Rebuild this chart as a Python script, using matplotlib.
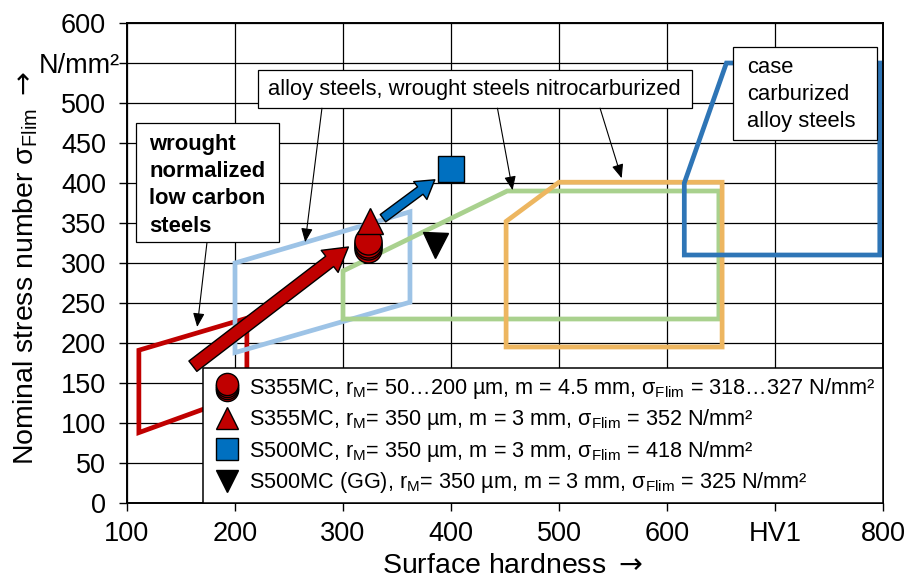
import numpy as np
import matplotlib.pyplot as plt
from matplotlib.patches import Polygon, Rectangle
from matplotlib.lines import Line2D
from matplotlib.legend_handler import HandlerBase
from matplotlib.transforms import ScaledTranslation

plt.rcParams['font.family'] = ['Liberation Sans', 'DejaVu Sans']
plt.rcParams['mathtext.fontset'] = 'custom'
plt.rcParams['mathtext.rm'] = 'Liberation Sans'
plt.rcParams['mathtext.it'] = 'Liberation Sans:italic'
plt.rcParams['mathtext.bf'] = 'Liberation Sans:bold'
plt.rcParams['mathtext.sf'] = 'DejaVu Sans'

# Axis ticks
x_ticks = [100, 200, 300, 400, 500, 600, 700, 800]
x_tick_labels = ['100', '200', '300', '400', '500', '600', 'HV1', '800']
y_ticks = list(range(0, 601, 50))
y_tick_labels = [str(v) for v in y_ticks]
y_tick_labels[11] = 'N/mm²'

# Material regions (surface hardness HV1, sigma_Flim N/mm²)
normalized_hv = [111, 111, 211, 211]
normalized_sigma = [88, 191, 231, 137]
alloy_hv = [200, 200, 362, 362]
alloy_sigma = [188, 300, 364, 251]
nitro_hv = [300, 300, 452, 648, 648]
nitro_sigma = [230, 290, 390, 390, 230]
nitro_alloy_hv = [451, 451, 500, 651, 651]
nitro_alloy_sigma = [195, 352, 401, 401, 195]
case_hv = [616, 616, 655, 797, 797]
case_sigma = [310, 400, 550, 550, 310]

# Test results
s355_hv = [323, 323, 323, 323]
s355_sigma = [318, 321, 324, 327]
s355b_hv = [325]
s355b_sigma = [352]
s500_hv = [400]
s500_sigma = [418]
s500gg_hv = [385]
s500gg_sigma = [322]

# Trend arrows (tail, tip)
red_arrow = [(161, 171), (305, 320)]
blue_arrow = [(337, 356), (385, 404)]

legend_labels = [
    r'S355MC, r$_\mathrm{M}$= 50…200 µm, m = 4.5 mm, σ$_\mathrm{Flim}$ = 318…327 N/mm²',
    r'S355MC, r$_\mathrm{M}$= 350 µm, m = 3 mm, σ$_\mathrm{Flim}$ = 352 N/mm²',
    r'S500MC, r$_\mathrm{M}$= 350 µm, m = 3 mm, σ$_\mathrm{Flim}$ = 418 N/mm²',
    r'S500MC (GG), r$_\mathrm{M}$= 350 µm, m = 3 mm, σ$_\mathrm{Flim}$ = 325 N/mm²',
]

red = '#C00000'
blue = '#0070C0'


class StackedCircles(HandlerBase):
    # several circles on top of each other, like the markers in the plot
    def create_artists(self, legend, orig_handle, xdescent, ydescent,
                       width, height, fontsize, trans):
        cx = width / 2 - xdescent
        cy = height / 2 - ydescent
        arts = []
        for dy in [-4.5, -3.0, -1.5, 0.0]:
            m = Line2D([cx], [cy + dy + 2], ls='none', marker='o',
                       ms=orig_handle.get_markersize(),
                       mfc=orig_handle.get_markerfacecolor(), mec='black', mew=1.0)
            m.set_transform(trans)
            arts.append(m)
        return arts


fig = plt.figure(figsize=(9.11, 5.84), dpi=100)
ax = fig.add_axes([0.1394, 0.1387, 0.8299, 0.8219])

ax.set_xlim(100, 800)
ax.set_ylim(0, 600)
ax.set_xticks(x_ticks)
ax.set_xticklabels(x_tick_labels)
ax.set_yticks(y_ticks)
ax.set_yticklabels(y_tick_labels)
ax.tick_params(direction='out', length=6, width=1, labelsize=19.5, pad=9)
ax.tick_params(axis='x', pad=7)
# the unit label sits closer to the axis than the numbers
unit_lbl = ax.get_yticklabels()[11]
unit_lbl.set_transform(unit_lbl.get_transform() + ScaledTranslation(0.14, 0, fig.dpi_scale_trans))
ax.grid(True, color='black', lw=0.9)
ax.set_axisbelow(True)
for sp in ax.spines.values():
    sp.set_linewidth(1.4)

ax.set_xlabel(r'Surface hardness $\mathsf{\rightarrow}$', fontsize=20.5)
ax.xaxis.set_label_coords(0.51, -0.105)
ax.set_ylabel(r'Nominal stress number σ$_\mathrm{Flim}$ $\mathsf{\rightarrow}$', fontsize=20.5)
ax.yaxis.set_label_coords(-0.115, 0.49)

# regions
regions = [
    (normalized_hv, normalized_sigma, red),
    (alloy_hv, alloy_sigma, '#9DC3E6'),
    (nitro_hv, nitro_sigma, '#A9D18E'),
    (nitro_alloy_hv, nitro_alloy_sigma, '#EDB660'),
    (case_hv, case_sigma, '#2E75B6'),
]
for hv, sig, col in regions:
    ax.add_patch(Polygon(np.column_stack([hv, sig]), closed=True, fill=False,
                         ec=col, lw=3.4, joinstyle='miter', zorder=2))

# trend arrows
ax.annotate('', xy=red_arrow[1], xytext=red_arrow[0],
            arrowprops=dict(arrowstyle='simple,head_width=1.0,head_length=0.85,tail_width=0.47',
                            fc=red, ec='black', lw=1.0, mutation_scale=20,
                            shrinkA=0, shrinkB=0), zorder=3)
ax.annotate('', xy=blue_arrow[1], xytext=blue_arrow[0],
            arrowprops=dict(arrowstyle='simple,head_width=0.8,head_length=0.65,tail_width=0.33',
                            fc=blue, ec='black', lw=1.0, mutation_scale=20,
                            shrinkA=0, shrinkB=0), zorder=3)

# test points
for hv, sig in zip(s355_hv, s355_sigma):
    ax.plot(hv, sig, ls='none', marker='o', ms=19.5, mfc=red, mec='black', mew=1.0, zorder=4)
ax.plot(s355b_hv, s355b_sigma, ls='none', marker='^', ms=19, mfc=red, mec='black', mew=1.0, zorder=4)
ax.plot(s500_hv, s500_sigma, ls='none', marker='s', ms=18.5, mfc=blue, mec='black', mew=1.0, zorder=4)
ax.plot(s500gg_hv, s500gg_sigma, ls='none', marker='v', ms=18, mfc='black', mec='black', zorder=4)

# labelled boxes
thin = dict(arrowstyle='-|>,head_length=0.6,head_width=0.25', color='black', lw=0.8,
            mutation_scale=14, shrinkA=0, shrinkB=0)
ax.add_patch(Rectangle((108.3, 326.3), 132.4, 148.7, fc='white', ec='black', lw=0.9, zorder=5))
ax.text(120.4, 397, 'wrought\nnormalized\nlow carbon\nsteels', fontsize=15.8, fontweight='bold',
        ha='left', va='center', linespacing=1.38, zorder=6)
ax.annotate('', xy=(165, 220), xytext=(174, 325), arrowprops=thin, zorder=5)

ax.add_patch(Rectangle((221.3, 493.75), 401.8, 47.5, fc='white', ec='black', lw=0.9, zorder=5))
ax.text(422, 517.5, 'alloy steels, wrought steels nitrocarburized', fontsize=15.8,
        ha='center', va='center', zorder=6)
ax.annotate('', xy=(265, 326), xytext=(280.5, 493.5), arrowprops=thin, zorder=5)
ax.annotate('', xy=(457, 391), xytext=(443, 493.5), arrowprops=thin, zorder=5)
ax.annotate('', xy=(558, 406), xytext=(538, 493.5), arrowprops=thin, zorder=5)

ax.add_patch(Rectangle((661, 453.75), 133.4, 116.25, fc='white', ec='black', lw=0.9, zorder=5))
ax.text(674, 511, 'case\ncarburized\nalloy steels', fontsize=15.8,
        ha='left', va='center', linespacing=1.38, zorder=6)

# legend
h_circ = Line2D([], [], ls='none', marker='o', ms=16, mfc=red, mec='black')
h_tri = Line2D([], [], ls='none', marker='^', ms=16.5, mfc=red, mec='black')
h_sq = Line2D([], [], ls='none', marker='s', ms=16.5, mfc=blue, mec='black')
h_down = Line2D([], [], ls='none', marker='v', ms=16.5, mfc='black', mec='black')
leg = ax.legend([h_circ, h_tri, h_sq, h_down], legend_labels, loc='lower right',
                bbox_to_anchor=(1.0, 0.0), borderaxespad=0, fontsize=15.6,
                fancybox=False, edgecolor='black', framealpha=1,
                handlelength=1.5, handletextpad=0.3, labelspacing=0.3, borderpad=0.35,
                handler_map={h_circ: StackedCircles()})
leg.get_frame().set_linewidth(1.1)
leg.set_zorder(7)

fig.savefig('out.png', dpi=100)
